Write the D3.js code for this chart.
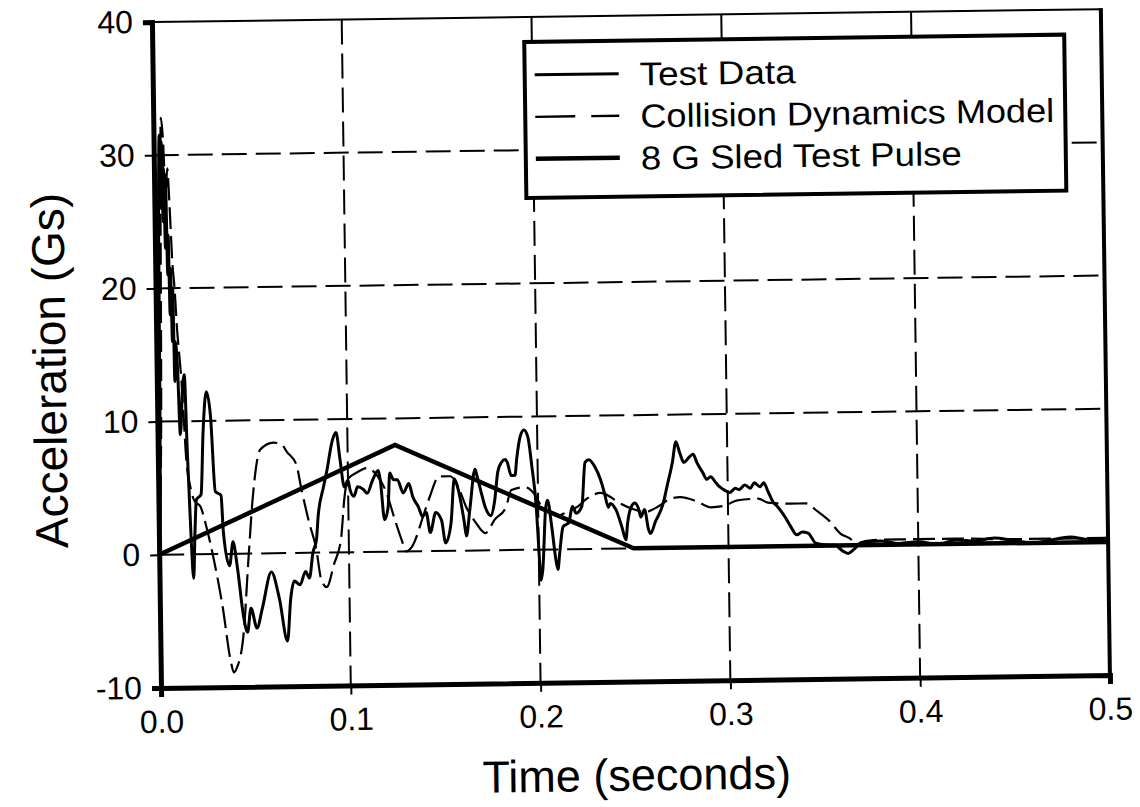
<!DOCTYPE html>
<html>
<head>
<meta charset="utf-8">
<script src="https://cdn.jsdelivr.net/npm/d3@7"></script>
<style>
  html, body { margin: 0; padding: 0; background: #fff; }
  svg { display: block; }
  text { font-family: "Liberation Sans", Arial, Helvetica, sans-serif; fill: #000; }
</style>
</head>
<body>
<svg id="chart" width="1140" height="807"></svg>
<script>
// ---------------- data ----------------
const xTicks = [0, 0.1, 0.2, 0.3, 0.4, 0.5];
const yTicks = [-10, 0, 10, 20, 30, 40];
const xTickLabels = ["0.0", "0.1", "0.2", "0.3", "0.4", "0.5"];
const yTickLabels = ["-10", "0", "10", "20", "30", "40"];
const xTitle = "Time (seconds)";
const yTitle = "Acceleration (Gs)";
const seriesNames = ["Test Data", "Collision Dynamics Model", "8 G Sled Test Pulse"];

const testT = [0, 0.001, 0.0015, 0.002, 0.0025, 0.003, 0.0035, 0.004, 0.0045, 0.005, 0.0055, 0.006, 0.0065, 0.007, 0.0075, 0.008, 0.0085, 0.009, 0.0095, 0.010, 0.011, 0.012, 0.0135, 0.0145, 0.0155, 0.017, 0.018, 0.019, 0.020, 0.0225, 0.024, 0.026, 0.028, 0.030, 0.033, 0.034, 0.037, 0.039, 0.041, 0.044, 0.046, 0.048, 0.051, 0.054, 0.059, 0.063, 0.067, 0.069, 0.071, 0.074, 0.077, 0.079, 0.081, 0.083, 0.084, 0.087, 0.089, 0.092, 0.094, 0.096, 0.098, 0.100, 0.101, 0.103, 0.105, 0.108, 0.110, 0.113, 0.116, 0.117, 0.119, 0.121, 0.122, 0.124, 0.126, 0.129, 0.132, 0.134, 0.137, 0.139, 0.141, 0.143, 0.146, 0.149, 0.151, 0.154, 0.156, 0.158, 0.161, 0.162, 0.164, 0.167, 0.168, 0.170, 0.172, 0.175, 0.177, 0.179, 0.181, 0.183, 0.184, 0.186, 0.188, 0.189, 0.191, 0.193, 0.195, 0.197, 0.199, 0.200, 0.201, 0.202, 0.204, 0.205, 0.207, 0.209, 0.210, 0.211, 0.213, 0.216, 0.218, 0.220, 0.223, 0.225, 0.227, 0.230, 0.233, 0.235, 0.237, 0.238, 0.241, 0.244, 0.246, 0.247, 0.249, 0.251, 0.253, 0.254, 0.256, 0.258, 0.259, 0.262, 0.263, 0.266, 0.268, 0.271, 0.273, 0.275, 0.277, 0.280, 0.282, 0.284, 0.287, 0.289, 0.291, 0.294, 0.296, 0.298, 0.301, 0.304, 0.306, 0.309, 0.312, 0.314, 0.317, 0.319, 0.321, 0.324, 0.326, 0.330, 0.333, 0.336, 0.339, 0.342, 0.346, 0.351, 0.356, 0.360, 0.363, 0.366, 0.370, 0.380, 0.390, 0.400, 0.410, 0.420, 0.430, 0.440, 0.450, 0.460, 0.470, 0.480, 0.490, 0.500];
const testG = [0, 4, 12, 24, 29, 31.5, 26, 31, 25, 29, 23, 28.5, 21, 24, 18, 21.5, 16, 20, 13, 16, 14, 9, 12.5, 13.5, 8, 1, -1.8, 1.6, 4.1, 4.5, 9.2, 12.2, 10.4, 4.7, 4.4, 1.6, -0.9, 0.9, -0.9, -4.7, -5.9, -4.1, -5.6, -4.1, -1.4, -3.4, -6.6, -3.4, -2.1, -2.4, -1.4, -1.9, 0, 1.0, 2.7, 4.9, 6.2, 8.4, 9.0, 6.9, 4.9, 5.4, 4.7, 4.2, 4.9, 4.7, 4.4, 5.4, 6.1, 5.4, 2.4, 3.4, 5.9, 5.4, 5.4, 4.4, 5.1, 4.1, 3.3, 2.6, 2.9, 1.4, 2.9, 2.3, 0.6, 2.1, 5.4, 4.6, 2.1, 1.1, 3.1, 6.1, 5.6, 4.4, 3.3, 2.6, 3.6, 5.9, 6.6, 6.8, 6.6, 5.6, 5.6, 6.8, 8.5, 9.0, 8.5, 6.2, 3.2, 0.2, -2.3, -1.5, 3.2, 3.7, 1.7, -0.8, -1.5, -0.3, 1.7, 2.0, 3.2, 2.7, 3.2, 6.5, 6.7, 6.2, 5.2, 4.2, 3.1, 3.4, 2.9, 1.6, 0.65, 1.9, 3.1, 3.4, 2.9, 2.35, 2.9, 1.4, 1.1, 2.1, 2.35, 3.4, 4.6, 6.4, 7.95, 7.1, 6.4, 6.8, 7.0, 6.35, 5.6, 5.1, 5.3, 4.8, 4.5, 4.3, 4.1, 4.4, 4.3, 4.65, 4.4, 4.8, 4.5, 4.8, 4.2, 3.3, 3.0, 2.2, 1.45, 0.85, 1.05, 0.97, 0.2, 0.07, 0.05, -0.4, -0.6, -0.3, 0.2, 0.3, 0.1, 0.2, 0.0, 0.3, 0.2, 0.4, 0.2, 0.0, 0.2, 0.4, 0.2, 0.3];

const modelT = [0, 0.002, 0.004, 0.005, 0.006, 0.007, 0.008, 0.009, 0.010, 0.011, 0.012, 0.013, 0.014, 0.015, 0.017, 0.019, 0.022, 0.025, 0.029, 0.033, 0.037, 0.0385, 0.040, 0.044, 0.047, 0.050, 0.054, 0.061, 0.065, 0.068, 0.073, 0.075, 0.079, 0.083, 0.085, 0.088, 0.092, 0.096, 0.098, 0.100, 0.105, 0.110, 0.115, 0.120, 0.124, 0.128, 0.130, 0.133, 0.140, 0.143, 0.148, 0.154, 0.158, 0.162, 0.167, 0.172, 0.177, 0.183, 0.186, 0.193, 0.198, 0.202, 0.205, 0.210, 0.215, 0.221, 0.225, 0.233, 0.238, 0.242, 0.251, 0.256, 0.263, 0.270, 0.275, 0.283, 0.291, 0.298, 0.305, 0.316, 0.321, 0.333, 0.341, 0.347, 0.353, 0.359, 0.365, 0.367, 0.372, 0.380, 0.400, 0.420, 0.450, 0.500];
const modelG = [0, 10, 32.8, 31, 27, 29, 26, 22, 20, 17, 15, 13, 10, 7, 5, 4, 3.6, 2.1, -0.6, -3.9, -8.1, -8.9, -8.6, -5.9, -0.4, 4.6, 7.8, 8.3, 8.2, 7.6, 6.6, 5.1, 2.4, 0.1, -1.9, -2.6, -0.9, 1.1, 4.1, 5.5, 6.0, 6.3, 5.8, 4.5, 2.6, 0.8, 0, 0.3, 2.9, 4.1, 5.6, 5.6, 4.8, 3.3, 2.1, 1.3, 2.3, 3.2, 4.5, 4.7, 4.2, 3.2, 2.9, 2.5, 2.8, 3.2, 3.7, 4.2, 3.9, 3.5, 2.9, 2.7, 3.1, 3.7, 3.8, 3.5, 3.0, 3.1, 3.5, 3.6, 3.3, 3.2, 3.2, 2.6, 1.9, 0.9, 0.4, 0.0, 0.3, 0.4, 0.4, 0.4, 0.3, 0.3];

const sledT = [0, 0.125, 0.25, 0.5];
const sledG = [0, 8, 0, 0];

// ---------------- chart ----------------
const svg = d3.select("#chart");
svg.append("rect").attr("width", 1140).attr("height", 807).attr("fill", "#fff");

const pLeft = 161, pRight = 1110, pTop = 22, pBottom = 688;
const x = d3.scaleLinear().domain([0, 0.5]).range([pLeft, pRight]);
const y = d3.scaleLinear().domain([-10, 40]).range([pBottom, pTop]);

// the scanned original is slightly rotated
const g = svg.append("g").attr("transform", `rotate(-0.78, ${pLeft}, ${pBottom})`);

// grid lines
g.append("g").selectAll("line").data(yTicks.filter(v => v > -10 && v < 40)).join("line")
  .attr("x1", pLeft).attr("x2", pRight).attr("y1", d => y(d)).attr("y2", d => y(d))
  .attr("stroke", "#000").attr("stroke-width", 2).attr("stroke-dasharray", "25,9");
g.append("g").selectAll("line").data(xTicks.filter(v => v > 0 && v < 0.5)).join("line")
  .attr("y1", pTop).attr("y2", pBottom).attr("x1", d => x(d)).attr("x2", d => x(d))
  .attr("stroke", "#000").attr("stroke-width", 2).attr("stroke-dasharray", "25,9");

// top and right border
g.append("line").attr("x1", pLeft).attr("x2", pRight).attr("y1", pTop).attr("y2", pTop)
  .attr("stroke", "#000").attr("stroke-width", 2);
g.append("line").attr("x1", pRight).attr("x2", pRight).attr("y1", pTop - 1).attr("y2", pBottom)
  .attr("stroke", "#000").attr("stroke-width", 4);

// series
const line = d3.line().x(d => x(d[0])).y(d => y(d[1]));
const testData = testT.map((t, i) => [t, testG[i]]);
const modelData = modelT.map((t, i) => [t, modelG[i]]);
const sledData = sledT.map((t, i) => [t, sledG[i]]);

g.append("path").datum(modelData)
  .attr("d", line.curve(d3.curveMonotoneX))
  .attr("fill", "none").attr("stroke", "#000").attr("stroke-width", 2.2)
  .attr("stroke-dasharray", "22,7");
g.append("path").datum(testData)
  .attr("d", line.curve(d3.curveMonotoneX))
  .attr("fill", "none").attr("stroke", "#000").attr("stroke-width", 3)
  .attr("stroke-linejoin", "round");
g.append("path").datum(sledData)
  .attr("d", line.curve(d3.curveLinear))
  .attr("fill", "none").attr("stroke", "#000").attr("stroke-width", 4.5);

// axes
const yAxis = g.append("g").attr("transform", `translate(${pLeft},0)`)
  .call(d3.axisLeft(y).tickValues(yTicks).tickFormat((d, i) => yTickLabels[i]).tickSize(9).tickPadding(10));
const xAxis = g.append("g").attr("transform", `translate(0,${pBottom})`)
  .call(d3.axisBottom(x).tickValues(xTicks).tickFormat((d, i) => xTickLabels[i]).tickSize(9).tickPadding(13));
[yAxis, xAxis].forEach(a => {
  a.select(".domain").attr("stroke", "#000").attr("stroke-width", 5);
  a.selectAll(".tick line").attr("stroke", "#000").attr("stroke-width", 2);
  a.selectAll(".tick text").style("font-size", "32px").attr("fill", "#000");
});
xAxis.selectAll(".tick text").attr("dy", "0.71em");

// axis titles
g.append("text").attr("x", (pLeft + pRight) / 2).attr("y", 797)
  .attr("text-anchor", "middle").style("font-size", "45px").text(xTitle);
g.append("text").attr("transform", `translate(70, 369) rotate(-90)`)
  .attr("text-anchor", "middle").style("font-size", "46px").text(yTitle);

// legend
const lg = g.append("g");
lg.append("rect").attr("x", 533).attr("y", 47).attr("width", 540).attr("height", 156)
  .attr("fill", "#fff").attr("stroke", "#000").attr("stroke-width", 4);
const rows = [80, 122, 164];
const textWidths = [156, 414, 321];
const styles = [
  { w: 3, dash: null },
  { w: 2.4, dash: "40,16,28,200" },
  { w: 4.5, dash: null }
];
seriesNames.forEach((name, i) => {
  lg.append("line").attr("x1", 543).attr("x2", 627).attr("y1", rows[i]).attr("y2", rows[i])
    .attr("stroke", "#000").attr("stroke-width", styles[i].w)
    .attr("stroke-dasharray", styles[i].dash);
  lg.append("text").attr("x", 648).attr("y", rows[i] + 12)
    .attr("textLength", textWidths[i]).attr("lengthAdjust", "spacingAndGlyphs")
    .style("font-size", "33px").text(name);
});
</script>
</body>
</html>
